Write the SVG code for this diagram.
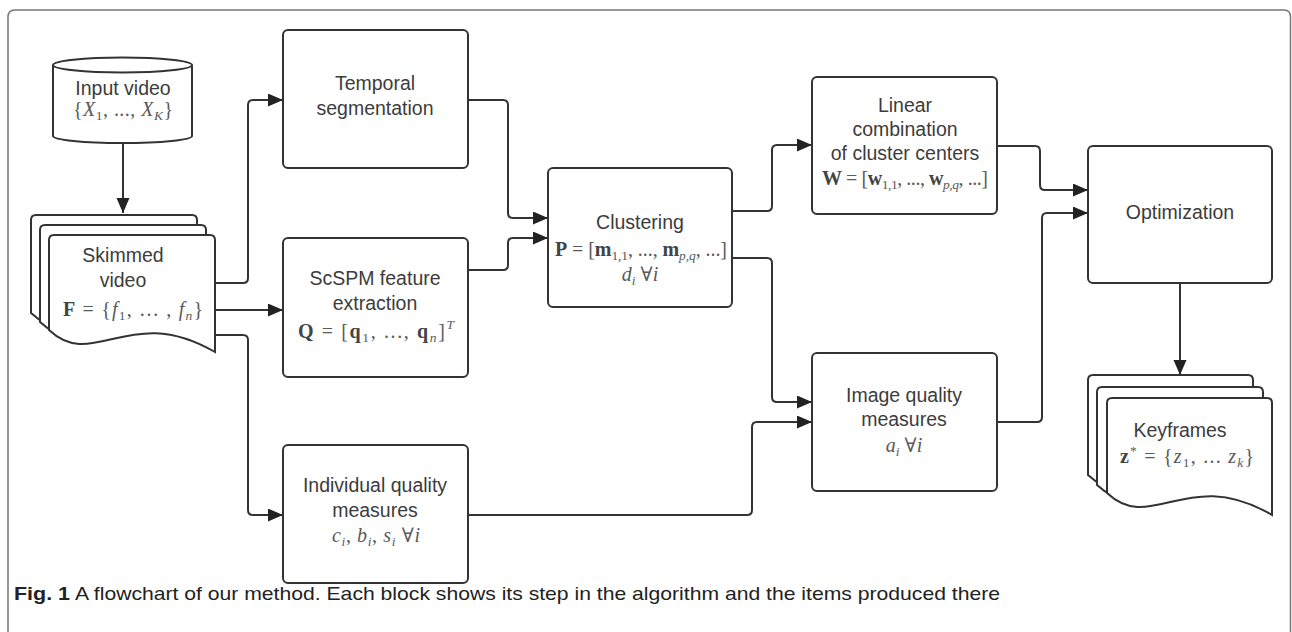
<svg xmlns="http://www.w3.org/2000/svg" width="1292" height="632" viewBox="0 0 1292 632">
<style>
.box{fill:#fff;stroke:#333;stroke-width:2}
.lbl{font-family:"Liberation Sans",Arial,sans-serif;font-size:19.5px;fill:#3c3c3c;text-anchor:middle}
.m{font-family:"Liberation Serif","DejaVu Serif",serif;font-size:20px;fill:#5a5a5a;text-anchor:middle}
.i{font-style:italic}
.b{font-weight:bold;fill:#444}
.s{font-size:13.5px}
#connectors path{fill:none;stroke:#333;stroke-width:2;marker-end:url(#ah)}
.cap{font-family:"Liberation Sans Narrow","Liberation Sans",Arial,sans-serif;font-size:19px;fill:#222}
</style>
<defs>
<marker id="ah" markerUnits="userSpaceOnUse" markerWidth="16" markerHeight="14" refX="15" refY="6.5" orient="auto">
<path d="M0,0 L15,6.5 L0,13 Z" fill="#222"/>
</marker>
</defs>
<rect width="1292" height="632" fill="#fff"/>
<path d="M8,640 V17 Q8,10 15,10 H1284 Q1290.5,10 1290.5,17 V640" fill="none" stroke="#777" stroke-width="1.5"/>

<g id="connectors">
<path d="M123,143 V213"/>
<path d="M215,283 H243 Q248,283 248,278 V105 Q248,100 253,100 H283"/>
<path d="M215,310 H283"/>
<path d="M215,335 H243 Q248,335 248,340 V510 Q248,515 253,515 H283"/>
<path d="M468,100 H503 Q508,100 508,105 V213 Q508,218 513,218 H548"/>
<path d="M468,270 H503 Q508,270 508,265 V243 Q508,238 513,238 H548"/>
<path d="M732,211 H767 Q772,211 772,206 V150 Q772,145 777,145 H812"/>
<path d="M732,258 H767 Q772,258 772,263 V397 Q772,402 777,402 H812"/>
<path d="M468,515 H747 Q752,515 752,510 V427 Q752,422 757,422 H812"/>
<path d="M997,146 H1035 Q1040,146 1040,151 V185 Q1040,190 1045,190 H1088"/>
<path d="M997,422 H1037 Q1042,422 1042,417 V218 Q1042,213 1047,213 H1088"/>
<path d="M1180,283 V375"/>
</g>

<g id="input-video">
<path class="box" d="M53,65 V136 A69.5,7 0 0 0 192,136 V65"/>
<ellipse class="box" cx="122.5" cy="65" rx="69.5" ry="7.5"/>
<text class="lbl" x="123" y="95">Input video</text>
<text class="m" x="123" y="116" textLength="100" lengthAdjust="spacing">{<tspan class="i">X</tspan><tspan class="s" dy="4">1</tspan><tspan dy="-4">, ..., </tspan><tspan class="i">X</tspan><tspan class="s i" dy="4">K</tspan><tspan dy="-4">}</tspan></text>
</g>

<g id="skimmed-video">
<path class="box" d="M31,313 V220 Q31,215 36,215 H192 Q197,215 197,220 V335 C111,285 76,355 31,313 Z"/>
<path class="box" d="M40,322 V230 Q40,225 45,225 H201 Q206,225 206,230 V344 C120,294 85,364 40,322 Z"/>
<path class="box" d="M49,330 V240 Q49,235 54,235 H210 Q215,235 215,240 V352 C129,302 94,372 49,330 Z"/>
<text class="lbl" x="123" y="262">Skimmed</text>
<text class="lbl" x="123" y="287">video</text>
<text class="m" x="133" y="316" textLength="140" lengthAdjust="spacing"><tspan class="b">F</tspan> = {<tspan class="i">f</tspan><tspan class="s" dy="4">1</tspan><tspan dy="-4">, … , </tspan><tspan class="i">f</tspan><tspan class="s i" dy="4">n</tspan><tspan dy="-4">}</tspan></text>
</g>

<g id="temporal-segmentation">
<rect class="box" x="283" y="30" width="185" height="138" rx="5"/>
<text class="lbl" x="375" y="90">Temporal</text>
<text class="lbl" x="375" y="115">segmentation</text>
</g>

<g id="scspm">
<rect class="box" x="283" y="238" width="185" height="139" rx="5"/>
<text class="lbl" x="375" y="285">ScSPM feature</text>
<text class="lbl" x="375" y="310">extraction</text>
<text class="m" x="376" y="338" textLength="156" lengthAdjust="spacing"><tspan class="b">Q</tspan> = [<tspan class="b">q</tspan><tspan class="s" dy="4">1</tspan><tspan dy="-4">, ..., </tspan><tspan class="b">q</tspan><tspan class="s i" dy="4">n</tspan><tspan dy="-4">]</tspan><tspan class="s i" dy="-9">T</tspan></text>
</g>

<g id="individual-quality">
<rect class="box" x="283" y="445" width="185" height="138" rx="5"/>
<text class="lbl" x="375" y="492">Individual quality</text>
<text class="lbl" x="375" y="517">measures</text>
<text class="m" x="376" y="542" textLength="88" lengthAdjust="spacing"><tspan class="i">c</tspan><tspan class="s i" dy="4">i</tspan><tspan dy="-4">, </tspan><tspan class="i">b</tspan><tspan class="s i" dy="4">i</tspan><tspan dy="-4">, </tspan><tspan class="i">s</tspan><tspan class="s i" dy="4">i</tspan><tspan dy="-4"> ∀</tspan><tspan class="i">i</tspan></text>
</g>

<g id="clustering">
<rect class="box" x="548" y="168" width="184" height="139" rx="5"/>
<text class="lbl" x="640" y="229">Clustering</text>
<text class="m" x="641" y="256" textLength="172" lengthAdjust="spacing"><tspan class="b">P</tspan> = [<tspan class="b">m</tspan><tspan class="s" dy="4">1,1</tspan><tspan dy="-4">, ..., </tspan><tspan class="b">m</tspan><tspan class="s i" dy="4">p,q</tspan><tspan dy="-4">, ...]</tspan></text>
<text class="m" x="640" y="281"><tspan class="i">d</tspan><tspan class="s i" dy="4">i</tspan><tspan dy="-4"> ∀</tspan><tspan class="i">i</tspan></text>
</g>

<g id="linear-combination">
<rect class="box" x="812" y="77" width="185" height="137" rx="5"/>
<text class="lbl" x="905" y="112">Linear</text>
<text class="lbl" x="905" y="136">combination</text>
<text class="lbl" x="905" y="160">of cluster centers</text>
<text class="m" x="905" y="185" textLength="166" lengthAdjust="spacing"><tspan class="b">W</tspan> = [<tspan class="b">w</tspan><tspan class="s" dy="4">1,1</tspan><tspan dy="-4">, ..., </tspan><tspan class="b">w</tspan><tspan class="s i" dy="4">p,q</tspan><tspan dy="-4">, ...]</tspan></text>
</g>

<g id="image-quality">
<rect class="box" x="812" y="353" width="185" height="138" rx="5"/>
<text class="lbl" x="904" y="402">Image quality</text>
<text class="lbl" x="904" y="426">measures</text>
<text class="m" x="904" y="452"><tspan class="i">a</tspan><tspan class="s i" dy="4">i</tspan><tspan dy="-4"> ∀</tspan><tspan class="i">i</tspan></text>
</g>

<g id="optimization">
<rect class="box" x="1088" y="146" width="184" height="137" rx="5"/>
<text class="lbl" x="1180" y="219">Optimization</text>
</g>

<g id="keyframes">
<path class="box" d="M1088,475 V380 Q1088,375 1093,375 H1248 Q1253,375 1253,380 V497 C1168,447 1133,517 1088,475 Z"/>
<path class="box" d="M1097,485 V392 Q1097,387 1102,387 H1258 Q1263,387 1263,392 V507 C1177,457 1142,527 1097,485 Z"/>
<path class="box" d="M1107,493 V403 Q1107,398 1112,398 H1267 Q1272,398 1272,403 V515 C1187,465 1152,535 1107,493 Z"/>
<text class="lbl" x="1180" y="437">Keyframes</text>
<text class="m" x="1187" y="463" textLength="134" lengthAdjust="spacing"><tspan class="b">z</tspan><tspan class="s" dy="-8">*</tspan><tspan dy="8"> = {</tspan><tspan class="i">z</tspan><tspan class="s" dy="4">1</tspan><tspan dy="-4">, ... </tspan><tspan class="i">z</tspan><tspan class="s i" dy="4">k</tspan><tspan dy="-4">}</tspan></text>
</g>

<g id="caption">
<text class="cap" x="14" y="600" font-weight="bold" fill="#111" textLength="56" lengthAdjust="spacingAndGlyphs">Fig. 1</text>
<text class="cap" x="75" y="600" textLength="925" lengthAdjust="spacingAndGlyphs">A flowchart of our method. Each block shows its step in the algorithm and the items produced there</text>
</g>
</svg>
